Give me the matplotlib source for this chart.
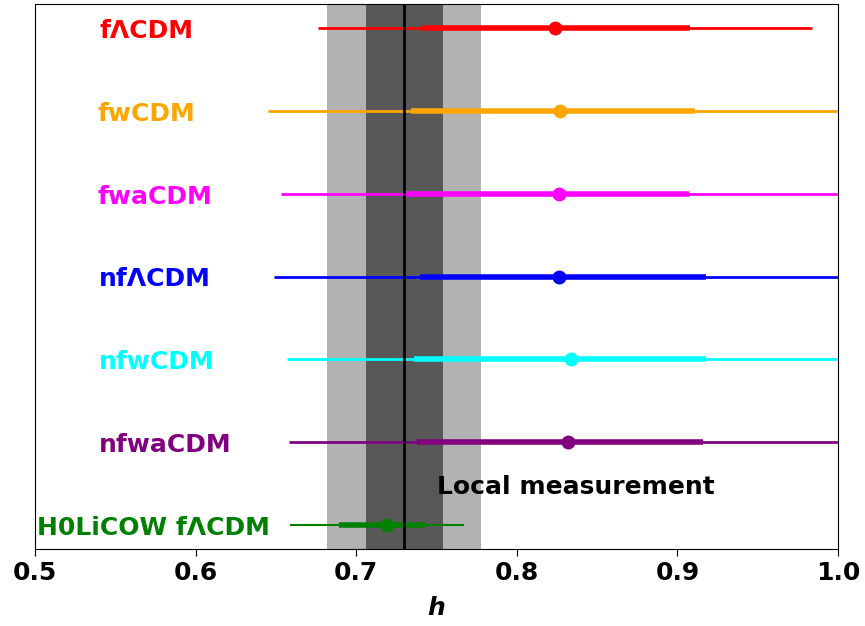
import numpy as np
import matplotlib
matplotlib.use('Agg')
import matplotlib.pyplot as plt

# models, top to bottom
models = ['fΛCDM', 'fwCDM', 'fwaCDM', 'nfΛCDM', 'nfwCDM', 'nfwaCDM', 'H0LiCOW fΛCDM']
colors = ['red', 'orange', 'magenta', 'blue', 'cyan', 'purple', 'green']
# best fit h and 1 sigma / 2 sigma ranges
h_best = [0.824, 0.827, 0.826, 0.826, 0.834, 0.832, 0.719]
lo1 = [0.741, 0.734, 0.731, 0.740, 0.736, 0.738, 0.689]
hi1 = [0.908, 0.911, 0.907, 0.918, 0.918, 0.916, 0.743]
lo2 = [0.676, 0.645, 0.653, 0.649, 0.657, 0.658, 0.659]
hi2 = [0.984, 1.05, 1.05, 1.05, 1.05, 1.05, 0.767]
label_x = [0.540, 0.539, 0.539, 0.540, 0.540, 0.540, 0.501]

# local measurement
h_loc = 0.73
sig_loc = 0.024

fig = plt.figure(figsize=(8.65, 6.26), dpi=100)
ax = fig.add_axes([0.0405, 0.123, 0.9283, 0.8706])

ax.axvspan(h_loc - 2*sig_loc, h_loc + 2*sig_loc, color='k', alpha=0.3, lw=0)
ax.axvspan(h_loc - sig_loc, h_loc + sig_loc, color='k', alpha=0.5, lw=0)

n = len(models)
for i in range(n):
    y = n - 1 - i
    thin = 1.5 if i == n - 1 else 2
    ax.plot([lo2[i], hi2[i]], [y, y], color=colors[i], lw=thin, solid_capstyle='butt', zorder=3)
    ax.plot([lo1[i], hi1[i]], [y, y], color=colors[i], lw=4, solid_capstyle='butt', zorder=3)
    ax.plot(h_best[i], y, 'o', color=colors[i], ms=9, zorder=4)
    ax.text(label_x[i], y - 0.12, models[i], color=colors[i], fontsize=18, fontweight='bold',
            ha='left', va='baseline')

ax.axvline(h_loc, color='k', lw=2, zorder=5)
ax.text(0.7505, 0.46, 'Local measurement', fontsize=18, fontweight='bold', ha='left', va='center')

ax.set_xlim(0.5, 1.0)
ax.set_ylim(-0.29, n - 1 + 0.29)
ax.set_yticks([])
ax.set_xticks([0.5, 0.6, 0.7, 0.8, 0.9, 1.0])
ax.tick_params(axis='x', labelsize=18, length=5)
for t in ax.get_xticklabels():
    t.set_fontweight('bold')
ax.set_xlabel('h', fontsize=18, fontweight='bold', style='italic', labelpad=8)

plt.savefig('out.png', dpi=100)
